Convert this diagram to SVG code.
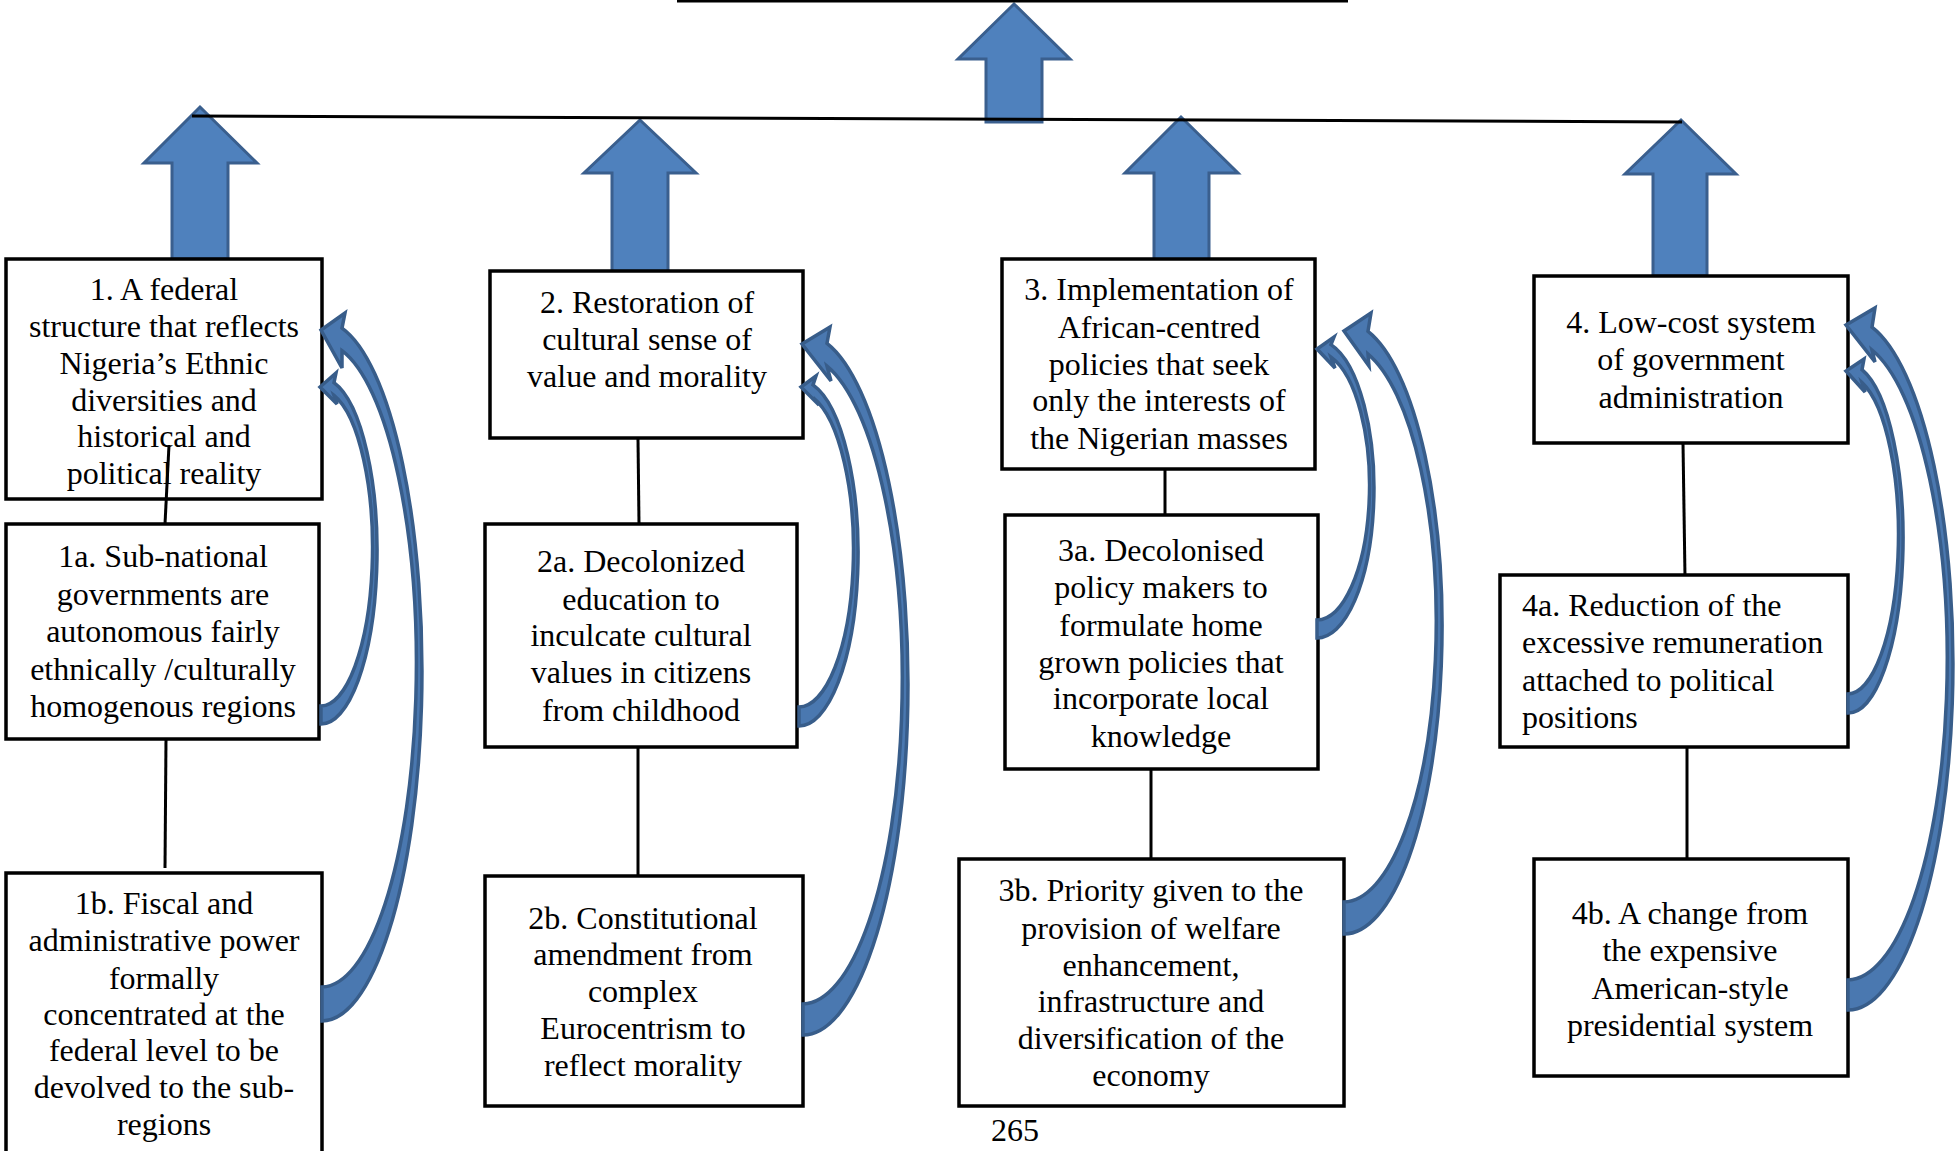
<svg xmlns="http://www.w3.org/2000/svg" width="1955" height="1151" viewBox="0 0 1955 1151">
<style>
.box{fill:#fff;stroke:#000;stroke-width:3.5}
.t{font-family:"Liberation Serif","Times New Roman",serif;font-size:32px;fill:#000;text-anchor:middle}
.tl{font-family:"Liberation Serif","Times New Roman",serif;font-size:32px;fill:#000}
.up{fill:#4F81BD;stroke:#3A5F8E;stroke-width:3}
.cv{fill:#4A78B0;stroke:#385D8A;stroke-width:3.5;stroke-linejoin:miter}
.ln{stroke:#000;stroke-width:3;fill:none}
</style>
<rect width="1955" height="1151" fill="#fff"/>

<g id="up-arrows">
<polygon class="up" points="1014,4 1070,59 1042,59 1042,122 986,122 986,59 958,59"/>
<polygon class="up" points="200,107 257,163 228,163 228,259 172,259 172,163 144,163"/>
<polygon class="up" points="640,120 696,173 668,173 668,272 612,272 612,173 584,173"/>
<polygon class="up" points="1181,117 1238,173 1209,173 1209,260 1154,260 1154,173 1125,173"/>
<polygon class="up" points="1681,120 1736,174 1707,174 1707,276 1653,276 1653,174 1625,174"/>
</g>

<g id="connectors">
<line class="ln" x1="677" y1="1" x2="1348" y2="1"/>
<line class="ln" x1="192" y1="116" x2="1682" y2="122"/>
<line class="ln" x1="166" y1="739" x2="165" y2="868"/>
<line class="ln" x1="638" y1="439" x2="639" y2="524"/>
<line class="ln" x1="638" y1="747" x2="638" y2="882"/>
<line class="ln" x1="1165" y1="469" x2="1165" y2="515"/>
<line class="ln" x1="1151" y1="769" x2="1151" y2="877"/>
<line class="ln" x1="1683" y1="443" x2="1685" y2="577"/>
<line class="ln" x1="1687" y1="747" x2="1687" y2="859"/>
</g>

<g id="node-1">
<rect class="box" x="6" y="259" width="316" height="240"/>
<text class="t" x="164" y="300">1. A federal</text>
<text class="t" x="164" y="337">structure that reflects</text>
<text class="t" x="164" y="374">Nigeria’s Ethnic</text>
<text class="t" x="164" y="411">diversities and</text>
<text class="t" x="164" y="447">historical and</text>
<text class="t" x="164" y="484">political reality</text>
</g>
<line class="ln" x1="169" y1="445" x2="165" y2="524"/>

<g id="node-2">
<rect class="box" x="490" y="271" width="313" height="167"/>
<text class="t" x="647" y="313">2. Restoration of</text>
<text class="t" x="647" y="350">cultural sense of</text>
<text class="t" x="647" y="387">value and morality</text>
</g>

<g id="node-3">
<rect class="box" x="1002" y="259" width="313" height="210"/>
<text class="t" x="1159" y="300">3. Implementation of</text>
<text class="t" x="1159" y="338">African-centred</text>
<text class="t" x="1159" y="375">policies that seek</text>
<text class="t" x="1159" y="411">only the interests of</text>
<text class="t" x="1159" y="449">the Nigerian masses</text>
</g>

<g id="node-4">
<rect class="box" x="1534" y="276" width="314" height="167"/>
<text class="t" x="1691" y="333">4. Low-cost system</text>
<text class="t" x="1691" y="370">of government</text>
<text class="t" x="1691" y="408">administration</text>
</g>

<g id="node-1a">
<rect class="box" x="6" y="524" width="313" height="215"/>
<text class="t" x="163" y="567">1a. Sub-national</text>
<text class="t" x="163" y="605">governments are</text>
<text class="t" x="163" y="642">autonomous fairly</text>
<text class="t" x="163" y="680">ethnically /culturally</text>
<text class="t" x="163" y="717">homogenous regions</text>
</g>

<g id="node-2a">
<rect class="box" x="485" y="524" width="312" height="223"/>
<text class="t" x="641" y="572">2a. Decolonized</text>
<text class="t" x="641" y="610">education to</text>
<text class="t" x="641" y="646">inculcate cultural</text>
<text class="t" x="641" y="683">values in citizens</text>
<text class="t" x="641" y="721">from childhood</text>
</g>

<g id="node-3a">
<rect class="box" x="1005" y="515" width="313" height="254"/>
<text class="t" x="1161" y="561">3a. Decolonised</text>
<text class="t" x="1161" y="598">policy makers to</text>
<text class="t" x="1161" y="636">formulate home</text>
<text class="t" x="1161" y="673">grown policies that</text>
<text class="t" x="1161" y="709">incorporate local</text>
<text class="t" x="1161" y="747">knowledge</text>
</g>

<g id="node-4a">
<rect class="box" x="1500" y="575" width="348" height="172"/>
<text class="tl" x="1522" y="616">4a. Reduction of the</text>
<text class="tl" x="1522" y="653">excessive remuneration</text>
<text class="tl" x="1522" y="691">attached to political</text>
<text class="tl" x="1522" y="728">positions</text>
</g>

<g id="node-1b">
<rect class="box" x="6" y="873" width="316" height="282"/>
<text class="t" x="164" y="914">1b. Fiscal and</text>
<text class="t" x="164" y="951">administrative power</text>
<text class="t" x="164" y="989">formally</text>
<text class="t" x="164" y="1025">concentrated at the</text>
<text class="t" x="164" y="1061">federal level to be</text>
<text class="t" x="164" y="1098">devolved to the sub-</text>
<text class="t" x="164" y="1135">regions</text>
</g>

<g id="node-2b">
<rect class="box" x="485" y="876" width="318" height="230"/>
<text class="t" x="643" y="929">2b. Constitutional</text>
<text class="t" x="643" y="965">amendment from</text>
<text class="t" x="643" y="1002">complex</text>
<text class="t" x="643" y="1039">Eurocentrism to</text>
<text class="t" x="643" y="1076">reflect morality</text>
</g>

<g id="node-3b">
<rect class="box" x="959" y="859" width="385" height="247"/>
<text class="t" x="1151" y="901">3b. Priority given to the</text>
<text class="t" x="1151" y="939">provision of welfare</text>
<text class="t" x="1151" y="976">enhancement,</text>
<text class="t" x="1151" y="1012">infrastructure and</text>
<text class="t" x="1151" y="1049">diversification of the</text>
<text class="t" x="1151" y="1086">economy</text>
</g>

<g id="node-4b">
<rect class="box" x="1534" y="859" width="314" height="217"/>
<text class="t" x="1690" y="924">4b. A change from</text>
<text class="t" x="1690" y="961">the expensive</text>
<text class="t" x="1690" y="999">American-style</text>
<text class="t" x="1690" y="1036">presidential system</text>
</g>

<g id="curved-arrows">
<path class="cv" d="M322,1021 A100,350 0 0 0 342,328.1 L345,313 L321,330 L342,368 L342,350.7 A95,322 0 0 1 322,987 Z"/>
<path class="cv" d="M321,724 A56,173 0 0 0 334,382.7 L336,373 L320,387 L337,404 L334,395.4 A52,158 0 0 1 321,706 Z"/>
<path class="cv" d="M803,1035 A105,350.5 0 0 0 827,343.3 L830,327 L802,344 L831,381 L827,366.1 A100,324 0 0 1 803,1004 Z"/>
<path class="cv" d="M799,726 A59,173 0 0 0 813,384.9 L816,376 L801,387 L819,405 L813,397.6 A55,157.5 0 0 1 799,707 Z"/>
<path class="cv" d="M1317,638 A57,149 0 0 0 1331,344.6 L1334,337 L1317,349 L1335,368 L1331,357.1 A53,134 0 0 1 1317,620 Z"/>
<path class="cv" d="M1344,934 A98,306 0 0 0 1368,331.3 L1371,313 L1344,331 L1369,366 L1368,354.1 A93,279 0 0 1 1344,902 Z"/>
<path class="cv" d="M1848,1010 A105,346 0 0 0 1872,327.2 L1875,308 L1846,325 L1875,362 L1872,350 A100,320 0 0 1 1848,980 Z"/>
<path class="cv" d="M1848,713 A55,174.5 0 0 0 1862,369.7 L1864,359 L1846,371 L1865,392 L1862,382.6 A51,159 0 0 1 1848,694 Z"/>
</g>

<text class="t" x="1015" y="1141">265</text>
</svg>
